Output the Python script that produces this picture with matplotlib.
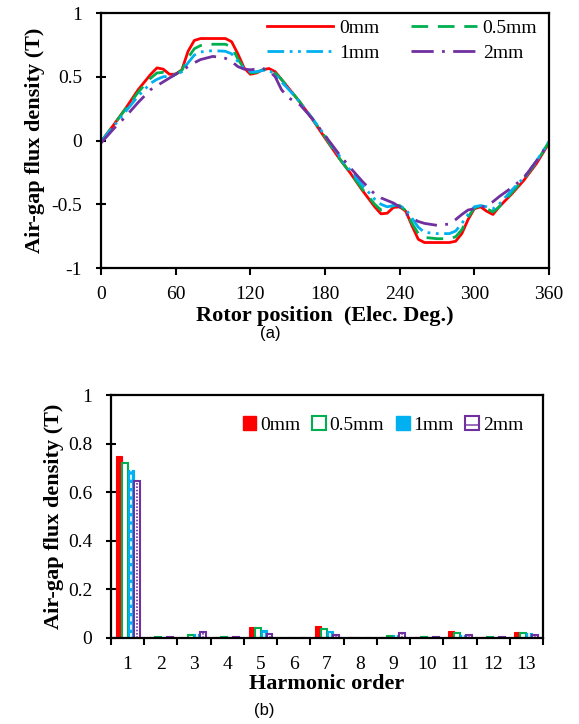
import numpy as np
import matplotlib
matplotlib.use("Agg")
import matplotlib.pyplot as plt
from matplotlib.patches import Patch

# (a) air-gap flux density waveform vs rotor position
angle = [0, 10, 20, 30, 40, 45, 50, 55, 60, 65, 70, 75, 80, 90, 100, 105, 110, 115,
         120, 125, 130, 135, 140, 145, 150, 160, 170, 180, 190, 200, 210, 220, 225,
         230, 235, 240, 245, 250, 255, 260, 270, 280, 285, 290, 295, 300, 305, 310,
         315, 320, 330, 340, 350, 360]

b_0mm = [-0.01, 0.12, 0.255, 0.40, 0.52, 0.57, 0.56, 0.52, 0.52, 0.555, 0.70, 0.785,
         0.80, 0.80, 0.80, 0.775, 0.68, 0.57, 0.52, 0.53, 0.555, 0.565, 0.54, 0.48,
         0.42, 0.30, 0.165, 0.02, -0.12, -0.25, -0.39, -0.52, -0.575, -0.57, -0.525,
         -0.52, -0.555, -0.67, -0.775, -0.80, -0.80, -0.80, -0.79, -0.73, -0.62,
         -0.535, -0.52, -0.555, -0.58, -0.52, -0.42, -0.31, -0.18, -0.02]

b_05mm = [-0.01, 0.12, 0.25, 0.38, 0.49, 0.53, 0.535, 0.52, 0.52, 0.55, 0.65, 0.72,
          0.745, 0.755, 0.755, 0.735, 0.64, 0.565, 0.53, 0.535, 0.555, 0.56, 0.53,
          0.48, 0.42, 0.30, 0.17, 0.03, -0.12, -0.25, -0.38, -0.50, -0.545, -0.54,
          -0.51, -0.51, -0.55, -0.65, -0.73, -0.76, -0.77, -0.77, -0.755, -0.70,
          -0.60, -0.53, -0.51, -0.535, -0.56, -0.52, -0.41, -0.30, -0.17, -0.01]

b_1mm = [-0.01, 0.11, 0.23, 0.35, 0.45, 0.48, 0.50, 0.505, 0.51, 0.54, 0.61, 0.67,
         0.695, 0.705, 0.70, 0.68, 0.62, 0.565, 0.54, 0.54, 0.55, 0.55, 0.52, 0.46,
         0.41, 0.30, 0.17, 0.04, -0.10, -0.23, -0.35, -0.46, -0.50, -0.52, -0.51,
         -0.51, -0.54, -0.61, -0.68, -0.72, -0.73, -0.73, -0.71, -0.65, -0.58,
         -0.52, -0.51, -0.52, -0.535, -0.50, -0.39, -0.29, -0.16, -0.01]

b_2mm = [-0.02, 0.09, 0.19, 0.30, 0.40, 0.43, 0.46, 0.49, 0.52, 0.55, 0.58, 0.61,
         0.635, 0.66, 0.645, 0.62, 0.58, 0.56, 0.555, 0.56, 0.565, 0.55, 0.50, 0.40,
         0.34, 0.28, 0.17, 0.04, -0.09, -0.21, -0.32, -0.42, -0.45, -0.47, -0.49,
         -0.52, -0.575, -0.61, -0.635, -0.65, -0.665, -0.655, -0.62, -0.58, -0.545,
         -0.535, -0.525, -0.51, -0.48, -0.44, -0.37, -0.29, -0.16, -0.02]

# (b) harmonic spectrum
orders = list(range(1, 14))
h_0mm = [0.751, 0.003, 0.002, 0.003, 0.045, 0.002, 0.050, 0.003, 0.003, 0.003, 0.029, 0.003, 0.025]
h_05mm = [0.722, 0.003, 0.013, 0.003, 0.041, 0.002, 0.037, 0.002, 0.010, 0.003, 0.019, 0.003, 0.019]
h_1mm = [0.690, 0.003, 0.015, 0.003, 0.034, 0.002, 0.027, 0.002, 0.014, 0.003, 0.014, 0.003, 0.019]
h_2mm = [0.645, 0.003, 0.023, 0.003, 0.018, 0.002, 0.014, 0.002, 0.019, 0.003, 0.014, 0.003, 0.014]

labels = ["0mm", "0.5mm", "1mm", "2mm"]
RED, GREEN, BLUE, PURPLE = "#FF0000", "#00B050", "#00B0F0", "#7030A0"

plt.rcParams["font.family"] = "Liberation Serif"

fig = plt.figure(figsize=(5.79, 7.24), dpi=100)

# ---- top panel ----
ax1 = fig.add_axes([0.1744, 0.6298, 0.7737, 0.3522])
l0, = ax1.plot(angle, b_0mm, color=RED, lw=2.0)
l1, = ax1.plot(angle, b_05mm, color=GREEN, lw=2.0, dashes=(6, 3.5))
l2, = ax1.plot(angle, b_1mm, color=BLUE, lw=2.0, dashes=(6, 2, 1, 2, 1, 2))
l3, = ax1.plot(angle, b_2mm, color=PURPLE, lw=2.0, dashes=(8, 3, 1, 3))
ax1.set_xlim(0, 360)
ax1.set_ylim(-1, 1)
ax1.set_xticks(range(0, 361, 60))
ax1.set_yticks([-1, -0.5, 0, 0.5, 1])
ax1.set_yticklabels(["-1", "-0.5", "0", "0.5", "1"])
ax1.tick_params(axis="y", direction="inout", length=7, width=1.5, labelsize=14, pad=10)
ax1.tick_params(axis="x", direction="out", length=5, width=1.5, labelsize=14, pad=8)
for s in ax1.spines.values():
    s.set_linewidth(1.6)
ax1.set_xlabel("Rotor position  (Elec. Deg.)", fontsize=16, fontweight="bold", labelpad=2)
ax1.set_ylabel("Air-gap flux density (T)", fontsize=16, fontweight="bold", labelpad=5)
# legend reads row-wise: 0mm 0.5mm / 1mm 2mm
ax1.legend([l0, l2, l1, l3], [labels[0], labels[2], labels[1], labels[3]],
           ncol=2, loc="upper right", bbox_to_anchor=(1.0, 1.02), frameon=False,
           fontsize=14, handlelength=3.4, handletextpad=0.3, columnspacing=1.6,
           labelspacing=0.35, borderaxespad=0.2)

fig.text(0.466, 0.539, "(a)", family="Liberation Sans", fontsize=12, ha="center", va="center")

# ---- bottom panel ----
ax2 = fig.add_axes([0.1917, 0.1188, 0.7461, 0.3356])
x = np.array(orders)
w = 0.18
offs = [-0.27, -0.09, 0.09, 0.27]
ax2.bar(x + offs[0], h_0mm, w, color=RED, edgecolor=RED, lw=0.8)
ax2.bar(x + offs[1], h_05mm, w, color="white", edgecolor=GREEN, lw=1.5)
ax2.bar(x + offs[2], h_1mm, w, color=BLUE, edgecolor=BLUE, lw=0.8)
ax2.vlines(x + offs[2], 0, h_1mm, colors="white", lw=1.2, linestyles=(0, (3, 2)))
ax2.bar(x + offs[3], h_2mm, w, color="white", edgecolor=PURPLE, lw=1.5)
ax2.vlines(x + offs[3], 0, h_2mm, colors=PURPLE, lw=1.2, linestyles=(0, (1, 1)))
ax2.set_xlim(0.5, 13.5)
ax2.set_ylim(0, 1)
ax2.set_xticks(orders)
ax2.set_xticks(np.arange(0.5, 13.6, 1), minor=True)
ax2.tick_params(axis="x", which="major", length=0, labelsize=14, pad=13)
ax2.tick_params(axis="x", which="minor", direction="out", length=5, width=1.5)
ax2.set_yticks([0, 0.2, 0.4, 0.6, 0.8, 1])
ax2.set_yticklabels(["0", "0.2", "0.4", "0.6", "0.8", "1"])
ax2.tick_params(axis="y", direction="inout", length=7, width=1.5, labelsize=14, pad=10)
for s in ax2.spines.values():
    s.set_linewidth(1.6)
ax2.set_xlabel("Harmonic order", fontsize=16, fontweight="bold", labelpad=1)
ax2.set_ylabel("Air-gap flux density (T)", fontsize=16, fontweight="bold", labelpad=3)

handles = [
    Patch(facecolor=RED, edgecolor=RED),
    Patch(facecolor="white", edgecolor=GREEN, lw=1.5),
    Patch(facecolor=BLUE, edgecolor=BLUE),
    Patch(facecolor="white", edgecolor=PURPLE, lw=1.5, hatch="-"),
]
ax2.legend(handles, labels, ncol=4, loc="upper right", bbox_to_anchor=(0.995, 0.985),
           frameon=False, fontsize=14, handlelength=0.7, handleheight=0.7,
           handletextpad=0.2, columnspacing=0.6)

fig.text(0.457, 0.019, "(b)", family="Liberation Sans", fontsize=12, ha="center", va="center")

fig.savefig("out.png", dpi=100)
